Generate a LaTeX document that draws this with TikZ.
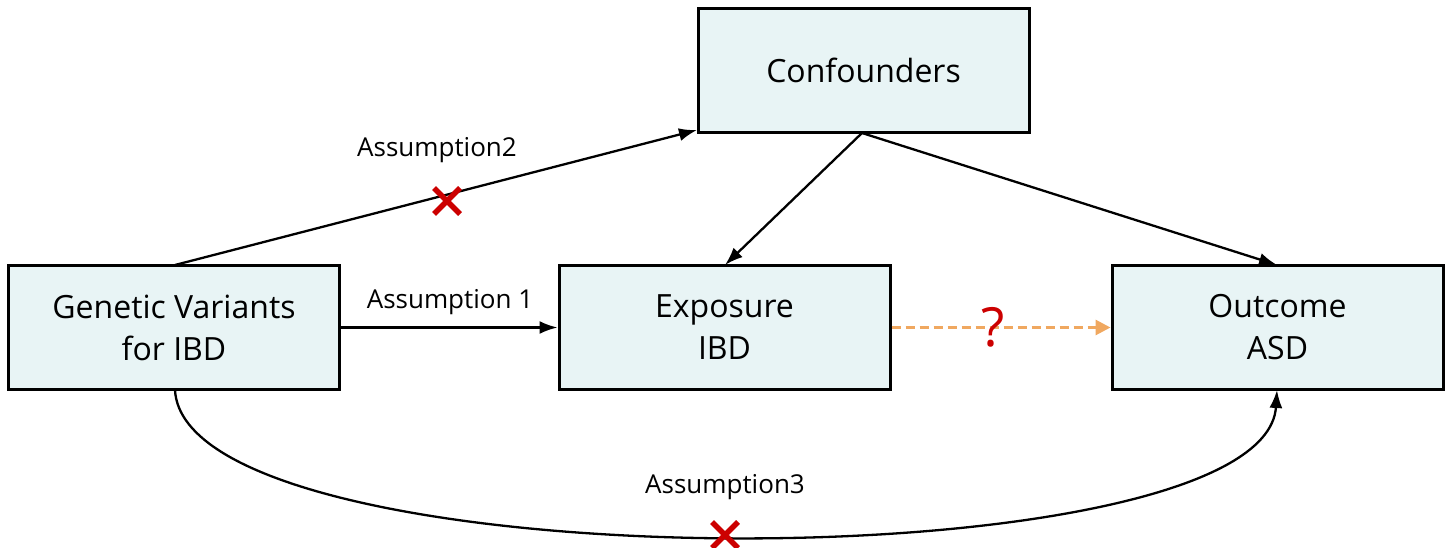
\documentclass[tikz,border=0pt]{standalone}
\usepackage{fontspec}
\setmainfont{Open Sans}
\usetikzlibrary{arrows.meta}
\definecolor{boxfill}{HTML}{E8F4F5}
\definecolor{crossred}{HTML}{CC0000}
\definecolor{dashor}{HTML}{F0A860}
\tikzset{
  box/.style={draw=black, line width=3pt, fill=boxfill, minimum width=331pt, minimum height=124pt, inner sep=0pt, align=center, font=\fontsize{32}{42}\selectfont},
  conn/.style={line width=2.3pt, -{Latex[length=18pt,width=13pt]}},
  lbl/.style={font=\fontsize{26}{30}\selectfont, inner sep=0pt},
  crossmark/.style={line width=5.5pt, crossred},
}
\begin{document}
\begin{tikzpicture}[x=1pt,y=-1pt]
\useasboundingbox (0,0) rectangle (1446,548);
\node[box] (gen) at (174,327.5) {Genetic Variants\\for IBD};
\node[box] (conf) at (863.5,70.5) {Confounders};
\node[box] (exp) at (724.5,327.5) {Exposure\\IBD};
\node[box] (out) at (1277.5,327.5) {Outcome\\ASD};
\coordinate (genTop) at (175,265);
\coordinate (genBot) at (175,390);
\coordinate (confBot) at (862,133);
\coordinate (confBL) at (697,130);
\coordinate (expTop) at (725,265);
\coordinate (outTop) at (1277,265);
\coordinate (outBot) at (1277,390);
\draw[conn] (genTop) -- (confBL);
\draw[conn] (gen.east) -- (exp.west);
\draw[conn] (confBot) -- (expTop);
\draw[conn] (confBot) -- (outTop);
\draw[line width=3pt, dashor, dash pattern=on 9pt off 5pt, -{Triangle[length=15pt,width=15pt]}] (exp.east) -- (out.west);
\draw[conn] (genBot) .. controls (185,585) and (1265,585) .. (outBot);
\node[lbl] (a2) at (437,150) {Assumption2};
\node[lbl] (a1) at (450,302) {Assumption 1};
\node[lbl] (a3) at (725,487) {Assumption3};
\node[font=\fontsize{54}{58}\selectfont, text=crossred, inner sep=0pt] (q) at (993,327) {?};
\coordinate (x1) at (447,201);
\coordinate (x2) at (725,535);
\draw[crossmark] ([shift={(-13,-13)}]x1) -- ([shift={(13,13)}]x1);
\draw[crossmark] ([shift={(-13,13)}]x1) -- ([shift={(13,-13)}]x1);
\draw[crossmark] ([shift={(-13,-13)}]x2) -- ([shift={(13,13)}]x2);
\draw[crossmark] ([shift={(-13,13)}]x2) -- ([shift={(13,-13)}]x2);
\end{tikzpicture}
\end{document}
